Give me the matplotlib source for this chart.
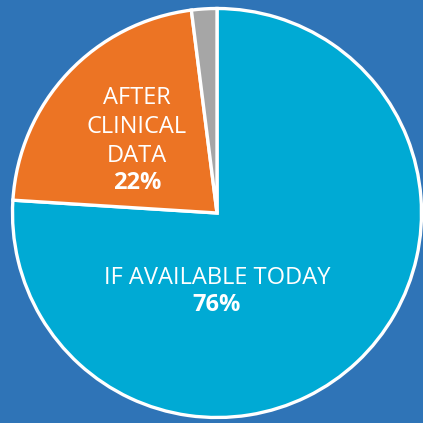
import matplotlib
matplotlib.use("Agg")
import matplotlib.pyplot as plt

labels = ["IF AVAILABLE TODAY", "AFTER\nCLINICAL\nDATA", ""]
values = [76, 22, 2]
pct_labels = ["76%", "22%", ""]
colors = ["#00AAD4", "#EC7424", "#A6A6A6"]
bg = "#2F74B7"

W = 423
fig = plt.figure(figsize=(W / 100, W / 100), dpi=100, facecolor=bg)
ax = fig.add_axes([0, 0, 1, 1])
ax.set_facecolor(bg)

cx, cy, r = 217, W - 213, 204.5
ax.pie(values, colors=colors, startangle=90, counterclock=False,
       center=(cx, cy), radius=r, frame=True,
       wedgeprops=dict(edgecolor="white", linewidth=2.4))
ax.set_xlim(0, W)
ax.set_ylim(0, W)
ax.set_aspect("equal")
ax.axis("off")

font = ["Open Sans", "DejaVu Sans"]
fs = 17
# blue label
ax.text(217, W - 278, labels[0], ha="center", va="center", color="white",
        fontsize=fs, family=font)
ax.text(217, W - 305, pct_labels[0], ha="center", va="center", color="white",
        fontsize=fs, fontweight="bold", family=font)
# orange label
ax.text(137, W - 127, labels[1], ha="center", va="center", color="white",
        fontsize=fs, family=font, linespacing=1.27)
ax.text(137, W - 183, pct_labels[1], ha="center", va="center", color="white",
        fontsize=fs, fontweight="bold", family=font)

fig.savefig("out.png", dpi=100, facecolor=bg)
